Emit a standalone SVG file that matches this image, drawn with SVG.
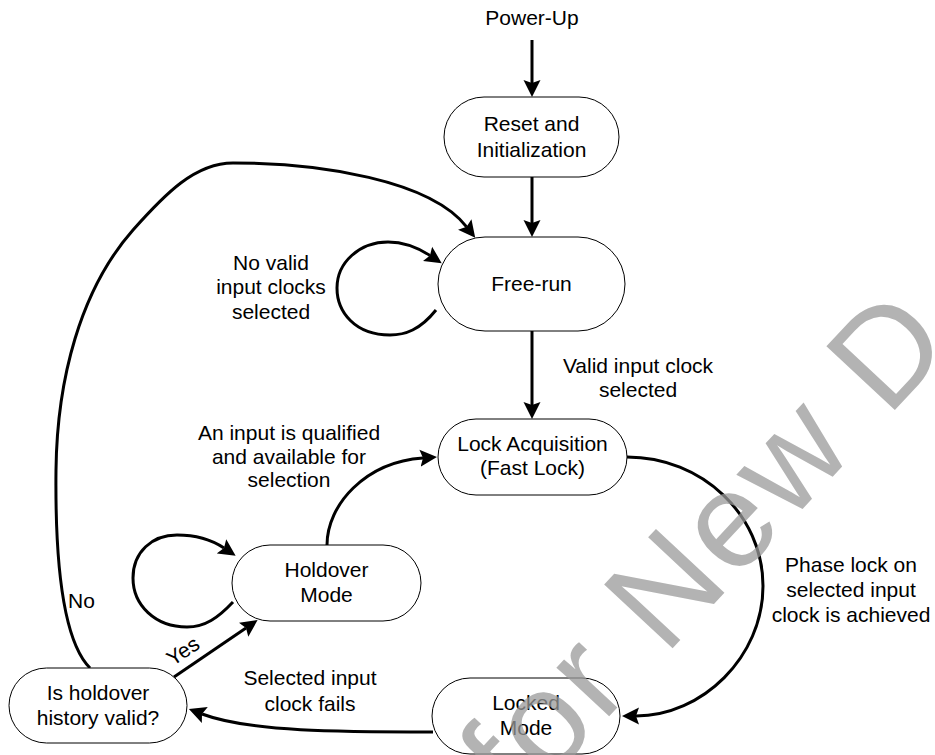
<svg xmlns="http://www.w3.org/2000/svg" width="935" height="755" viewBox="0 0 935 755">
<defs>
<marker id="arr" markerUnits="userSpaceOnUse" markerWidth="18" markerHeight="18" viewBox="0 0 18 18" refX="3" refY="9" orient="auto">
<path d="M0,0.5 L17,9 L0,17.5 L3,9 z" fill="#000"/>
</marker>
<style>
.node rect{fill:#fff;stroke:#000;stroke-width:1}
text{font-family:"Liberation Sans",Arial,sans-serif;font-size:21px;fill:#000}
.c{text-anchor:middle}
.conn path{fill:none;stroke:#000;stroke-width:3;marker-end:url(#arr)}
.wm{font-size:136px;letter-spacing:4px;fill:#999;fill-opacity:0.75}
</style>
</defs>
<rect width="935" height="755" fill="#fff"/>
<g id="connectors" class="conn">
<path d="M532,40 V83"/>
<path d="M532,177 V223"/>
<path d="M532,331 V405"/>
<path d="M627,457 C702,457 763,515 763,586 C763,657 702,716 636,716"/>
<path d="M433,732 C340,732 250,732 202,714"/>
<path d="M174,677 L246,628"/>
<path d="M90,668 C62,640 55,560 56,470 C57,380 80,290 133,230 C165,194 195,163 233,163 C320,163 430,180 466.6,226.8"/>
<path d="M436,310 C420,330 405,335 390,335 C355,335 337,312 337,288 C337,262 360,242 388,242 C405,242 420,249 430,255.5"/>
<path d="M233,602 C218,618 205,627 187,627 C155,627 133,605 133,578 C133,552 152,535 177,535 C195,535 212,540 224,548"/>
<path d="M327,545 C327,505 365,462 423,458"/>
</g>
<g id="labels">
<text class="c" x="532" y="25">Power-Up</text>
<text class="c" x="271" y="270">No valid</text>
<text class="c" x="271" y="294">input clocks</text>
<text class="c" x="271" y="319">selected</text>
<text class="c" x="638" y="373">Valid input clock</text>
<text class="c" x="638" y="397">selected</text>
<text class="c" x="289" y="440">An input is qualified</text>
<text class="c" x="289" y="464">and available for</text>
<text class="c" x="289" y="487">selection</text>
<text class="c" x="851" y="572">Phase lock on</text>
<text class="c" x="851" y="597">selected input</text>
<text class="c" x="851" y="622">clock is achieved</text>
<text class="c" x="310" y="685">Selected input</text>
<text class="c" x="310" y="711">clock fails</text>
<text x="68" y="608">No</text>
<text class="c" transform="translate(187,657) rotate(-34)">Yes</text>
</g>
<g id="reset" class="node">
<rect x="444" y="97" width="175" height="80" rx="40"/>
<text class="c" x="531.5" y="131">Reset and</text>
<text class="c" x="531.5" y="157">Initialization</text>
</g>
<g id="freerun" class="node">
<rect x="438" y="237" width="187" height="94" rx="47"/>
<text class="c" x="531.5" y="291">Free-run</text>
</g>
<g id="lockacq" class="node">
<rect x="438" y="419" width="189" height="76" rx="38"/>
<text class="c" x="532.5" y="451">Lock Acquisition</text>
<text class="c" x="532.5" y="475">(Fast Lock)</text>
</g>
<g id="holdover" class="node">
<rect x="232" y="545" width="189" height="76" rx="38"/>
<text class="c" x="326.5" y="577">Holdover</text>
<text class="c" x="326.5" y="602">Mode</text>
</g>
<g id="ishold" class="node">
<rect x="9" y="668" width="178" height="75" rx="37.5"/>
<text class="c" x="98" y="700">Is holdover</text>
<text class="c" x="98" y="725">history valid?</text>
</g>
<g id="locked" class="node">
<rect x="432" y="678" width="188" height="76" rx="38"/>
<text class="c" x="526" y="710">Locked</text>
<text class="c" x="526" y="735">Mode</text>
</g>
<text class="wm" transform="translate(520,812) rotate(-47)">for New D</text>
</svg>
